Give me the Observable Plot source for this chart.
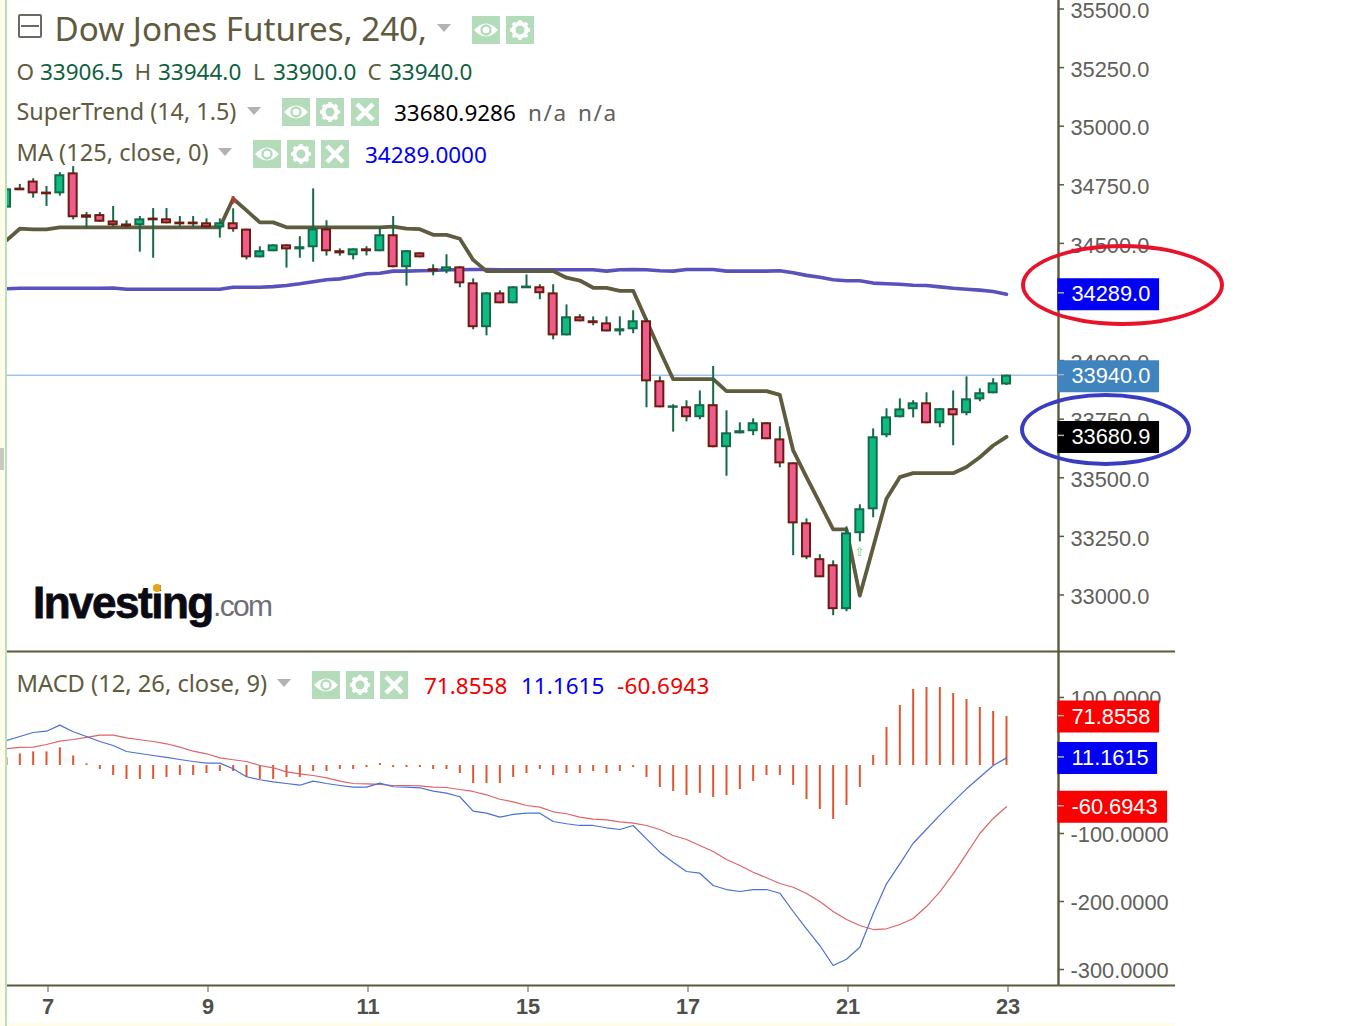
<!DOCTYPE html>
<html><head><meta charset="utf-8">
<script src="https://cdn.jsdelivr.net/npm/d3@7"></script>
<script src="https://cdn.jsdelivr.net/npm/@observablehq/plot@0.6"></script>
<style>
html,body{margin:0;padding:0;background:#fff;overflow:hidden;width:1366px;height:1026px}
#stage{position:relative;width:1366px;height:1026px;overflow:hidden}
#stage>svg{position:absolute;left:0}
.t{position:absolute;white-space:pre;font-family:"Noto Sans";line-height:1;transform:translateY(-50%);z-index:5}
.tri{position:absolute;width:0;height:0;border-left:7px solid transparent;border-right:7px solid transparent;border-top:8px solid #b4b0b4;z-index:5}
.ic{position:absolute;z-index:5}
.ell{position:absolute;border-radius:50%;box-sizing:border-box;border-style:solid;border-width:4.5px;z-index:6}
.edge{position:absolute;z-index:7}
</style></head><body><div id="stage"></div>
<script>
const opens=[34661,34738,34768,34721,34722,34803,34624,34625,34598,34585,34586,34610,34607,34593,34593,34590,34577,34590,34563,34449,34475,34496,34483,34492,34564,34471,34458,34479,34475,34539,34407,34462,34394,34390,34402,34334,34151,34291,34253,34317,34317,34291,34116,34189,34172,34163,34133,34142,34172,33916,33807,33805,33767,33814,33639,33698,33707,33737,33668,33566,33310,33157,33131,32948,33272,33374,33690,33767,33801,33822,33741,33797,33784,33843,33869,33906.5];
const closes=[34735,34735,34722,34718,34795,34620,34618,34601,34586,34581,34607,34607,34594,34590,34590,34577,34590,34569,34449,34471,34496,34483,34488,34564,34475,34466,34479,34475,34539,34407,34471,34449,34390,34402,34338,34151,34291,34253,34317,34320,34296,34116,34189,34176,34168,34133,34138,34172,33920,33809,33809,33767,33814,33639,33694,33703,33737,33673,33570,33314,33169,33084,32948,33267,33370,33677,33762,33796,33822,33741,33797,33775,33839,33865,33907,33940];
const highs=[34735,34758,34782,34749,34808,34834,34638,34638,34664,34603,34621,34655,34655,34621,34621,34611,34611,34654,34567,34492,34500,34500,34535,34739,34603,34483,34483,34492,34575,34621,34475,34466,34415,34458,34407,34355,34296,34304,34321,34372,34330,34330,34244,34202,34193,34193,34193,34219,34185,33937,33818,33835,33877,33981,33792,33741,33758,33741,33724,33570,33331,33178,33152,33297,33391,33715,33801,33843,33835,33869,33801,33877,33937,33886,33929,33944];
const lows=[34661,34732,34699,34664,34708,34607,34570,34596,34575,34571,34469,34443,34590,34575,34575,34569,34529,34554,34436,34445,34471,34401,34443,34426,34452,34452,34436,34453,34471,34402,34324,34445,34368,34377,34317,34138,34112,34249,34249,34315,34266,34095,34112,34172,34155,34129,34112,34121,33805,33805,33701,33745,33754,33634,33513,33694,33686,33669,33549,33174,33157,33080,32918,32935,33233,33336,33677,33762,33762,33737,33720,33643,33771,33831,33865,33900];
const superTrend=[34519,34569,34566,34566,34575,34575,34575,34575,34575,34575,34575,34575,34575,34575,34575,34575,34575,34697,34647,34596,34596,34575,34575,34575,34575,34575,34575,34575,34575,34578,34569,34567,34543,34543,34526,34436,34388,34388,34388,34388,34388,34388,34360,34348,34317,34317,34304,34304,34177,34049,33927,33927,33927,33927,33876,33876,33876,33876,33860,33623,33509,33398,33286,33286,33004,33210,33417,33509,33526,33526,33526,33526,33552,33594,33644,33680.93];
const movingAvg=[34313,34315,34315,34315,34315,34315,34315,34315,34316,34311,34311,34311,34311,34311,34311,34311,34311,34319,34319,34319,34322,34327,34334,34343,34351,34355,34365,34377,34379,34388,34388,34390,34391,34394,34394,34395,34395,34394,34394,34394,34394,34394,34394,34394,34394,34388,34394,34395,34394,34390,34388,34395,34395,34395,34388,34388,34388,34388,34390,34381,34370,34362,34351,34347,34347,34337,34334,34332,34328,34327,34321,34315,34311,34307,34301,34289];
const macdLine=[36.8,42.6,48.5,50.4,59.3,49.6,42.6,35.3,29.4,20.6,17.6,14.7,11.8,8.8,5.9,3.4,3.4,-4.9,-16.6,-21,-24,-26.5,-29,-23.1,-26.5,-29.4,-31.9,-31.9,-26,-31.3,-31.9,-32.8,-37.8,-40.7,-46,-67.2,-70.1,-76,-72,-70.1,-70.1,-82.4,-85.7,-88.2,-88.2,-91.6,-94.1,-88.2,-107.8,-127.5,-142.2,-155.9,-158.4,-176.5,-182.4,-185.3,-182.4,-182.4,-187.8,-214.7,-240.1,-264.7,-294.1,-284.9,-267.2,-218.1,-174,-144.6,-114.3,-93.7,-73.1,-53.4,-34.3,-17.2,0,11.16];
const signalLine=[24.6,26.5,26.9,30.9,35.7,38.2,41.2,44.6,44.6,40.7,37.8,35.3,31.9,26.9,21,17.2,11.3,8.4,5.9,0,-3.4,-9.3,-12.2,-14.7,-18.1,-23.1,-26.5,-26.9,-27.9,-29.4,-29.4,-29.9,-31.9,-32.4,-35.3,-38.2,-43.1,-49.6,-53.4,-58.8,-61.3,-68.1,-71,-76,-79,-79.9,-82.8,-84.8,-88.2,-94.1,-102.9,-108.8,-117.6,-126.5,-138.2,-147.1,-156.9,-165.1,-173.5,-179,-188.2,-200,-214.7,-226.5,-235.3,-241.2,-240.1,-233.8,-225,-207.4,-185.7,-159.3,-129.9,-100,-77.9,-60.69];
const histogram=[11.3,17,20,20,26,14,2.5,-5.9,-14.7,-20.6,-20.6,-20.6,-17.6,-14.7,-14.7,-11.8,-8.8,-8.8,-17.6,-20.6,-20.6,-17.6,-17.6,-8.8,-8.8,-5.9,-5.9,-2.9,2.9,-2.9,-2.9,-2.9,-5.9,-5.9,-11.8,-26.5,-26.5,-26.5,-17.6,-11.8,-5.9,-14.7,-11.8,-11.8,-8.8,-11.8,-8.8,-2.9,-17.6,-32.4,-38.2,-44,-41,-47,-44,-35.3,-23.5,-14.7,-14.7,-29.4,-50,-64.7,-79.4,-58.8,-32.4,14.7,55.9,88.2,111.8,114.7,114.7,105.9,97,85.3,79.4,71.86];
const priceTicks=[33000,33250,33500,33750,34000,34500,34750,35000,35250,35500];
const macdTicks=[100,-100,-200,-300];
const dayIndex=[3,15,27,39,51,63,75];
const dayLabels=["7","9","11","15","17","21","23"];
const priceTags=[
 {v:34289,label:"34289.0",bg:"#0000f5",end:86.48},
 {v:33940,label:"33940.0",bg:"#3f83bf",end:86.48},
 {v:33680.9,label:"33680.9",bg:"#000000",end:86.48}];
const macdTags=[
 {v:71.8558,label:"71.8558",bg:"#fb0000",end:86.48},
 {v:11.1615,label:"11.1615",bg:"#0000f5",end:86.33},
 {v:-60.6943,label:"-60.6943",bg:"#fb0000",end:87.08}];

const xEdge=78.9, lineEnd=87.68;
const candles=opens.map((o,i)=>({i,open:o,close:closes[i],high:highs[i],low:lows[i]}));
const up=candles.filter(d=>d.close>=d.open), down=candles.filter(d=>d.close<d.open);
const series=opens.map((_,i)=>({i,st:superTrend[i],ma:movingAvg[i],macd:macdLine[i],sig:signalLine[i],hist:histogram[i]}));
const axisColor="#5c5a3a", tickText="#60605a", font="'Liberation Sans'";
const xOpts={domain:[0,78.75],range:[6,1056],axis:null};
const base={width:1366,marginLeft:7,marginRight:309,style:{overflow:"visible",background:"transparent",fontFamily:font}};
const tagMarks=(tags,dy)=>[
  Plot.ruleY(tags,{y:"v",x1:xEdge-0.05,x2:"end",stroke:"bg",strokeWidth:32}),
  Plot.ruleY(tags,{y:"v",x1:xEdge,x2:xEdge+0.45,dy,stroke:"#b0b0a8",strokeWidth:1.5}),
  Plot.text(tags,{x:xEdge,y:"v",dx:13,text:"label",textAnchor:"start",fill:"#fff",fontSize:21.8,fontFamily:font})
];
const body=(data,fill,stroke)=>Plot.rect(data,{x1:d=>d.i-0.3,x2:d=>d.i+0.3,y1:"open",y2:"close",fill,stroke,strokeWidth:2,clip:true});

const pricePlot=Plot.plot({...base,height:651,marginTop:0,marginBottom:0,
  x:xOpts,y:{domain:[32765.2,35542.7],range:[651,0],axis:null},
  marks:[
    Plot.ruleY([33940],{x1:0,x2:xEdge,dy:-1,stroke:"#9dc3ec",strokeWidth:1.5,clip:true}),
    Plot.line(series,{x:"i",y:"ma",stroke:"#5a52bc",strokeWidth:3.6,clip:true}),
    Plot.line(series,{x:"i",y:"st",stroke:"#5f5b3e",strokeWidth:3.8,clip:true}),
    Plot.ruleX(candles,{x:"i",y1:"low",y2:"high",stroke:"#14694a",strokeWidth:2,clip:true}),
    body(down,"#ee5c8e","#6e1a0e"),
    body(up,"#0cbc82","#146a48"),
    Plot.text([{i:64,v:33188}],{x:"i",y:"v",text:()=>"⇧",fill:"#5fd85f",fontSize:12,fontFamily:"DejaVu Sans"}),
    Plot.text([{i:17,v:34690}],{x:"i",y:"v",text:()=>"⇩",fill:"#e02020",fontSize:11,fontWeight:"bold",fontFamily:"DejaVu Sans"}),
    Plot.ruleX([xEdge],{stroke:axisColor,strokeWidth:2.4}),
    Plot.ruleY(priceTicks,{x1:xEdge,x2:xEdge+0.45,dy:-1.5,stroke:axisColor,strokeWidth:1.5}),
    Plot.axisY(priceTicks,{anchor:"right",tickSize:0,tickPadding:13,dy:0.7,tickFormat:d=>d.toFixed(1),fontSize:21.8,color:tickText,label:null}),
    ...tagMarks(priceTags,-1.5)
  ]});
pricePlot.style.top="0px";

const macdPlot=Plot.plot({...base,height:375,marginTop:0,marginBottom:41,
  x:xOpts,y:{domain:[-323.5,167.6],range:[334,0],axis:null},
  marks:[
    Plot.ruleX(series,{x:"i",y1:0,y2:"hist",stroke:"#e0562e",strokeWidth:2,clip:true}),
    Plot.line(series,{x:"i",y:"sig",stroke:"#dd6468",strokeWidth:1.2,clip:true}),
    Plot.line(series,{x:"i",y:"macd",stroke:"#4a70d4",strokeWidth:1.2,clip:true}),
    Plot.ruleX([xEdge],{stroke:axisColor,strokeWidth:2.4}),
    Plot.ruleY([167.6,-323.5],{x1:0,x2:lineEnd,stroke:axisColor,strokeWidth:2.2}),
    Plot.ruleY(macdTicks,{x1:xEdge,x2:xEdge+0.45,stroke:axisColor,strokeWidth:1.5}),
    Plot.axisY(macdTicks,{anchor:"right",tickSize:0,tickPadding:13,dy:1.5,tickFormat:d=>d.toFixed(4),fontSize:21.8,color:tickText,label:null}),
    Plot.axisX(dayIndex,{anchor:"bottom",tickSize:7,tickPadding:6,dx:1.5,tickFormat:d=>dayLabels[dayIndex.indexOf(d)],fontSize:21.8,fontWeight:"bold",color:"#50504a",stroke:axisColor,label:null}),
    ...tagMarks(macdTags,-1)
  ]});
macdPlot.style.top="651px";

const stage=document.getElementById("stage");
stage.append(pricePlot,macdPlot);
function txt(s,left,cy,size,color,extra={}){const e=document.createElement("div");e.className="t";e.textContent=s;
  Object.assign(e.style,{left:left+"px",top:cy+"px",fontSize:size+"px",color},extra);stage.append(e);return e;}
function tri(left,y){const e=document.createElement("div");e.className="tri";e.style.left=left+"px";e.style.top=y+"px";stage.append(e);}
const glyph={
 eye:'<path d="M2 14Q14 1 26 14Q14 27 2 14Z" fill="#fff"/><circle cx="14" cy="14" r="4.5" fill="#fff" stroke="#b5dcba" stroke-width="2.4"/>',
 gear:'<circle cx="14" cy="14" r="6.5" fill="none" stroke="#fff" stroke-width="4"/>'+[0,45,90,135].map(a=>`<path d="M14 4V24" stroke="#fff" stroke-width="3.5" stroke-dasharray="4 12" transform="rotate(${a} 14 14)"/>`).join(""),
 x:'<path d="M6 6L22 22M22 6L6 22" stroke="#fff" stroke-width="4.5"/>'};
function icon(kind,left,y){const e=document.createElement("div");e.className="ic";e.style.left=left+"px";e.style.top=y+"px";
  e.innerHTML=`<svg width="28" height="28" viewBox="0 0 28 28"><rect width="28" height="28" fill="#b5dcba"/>${glyph[kind]}</svg>`;stage.append(e);}

// legend: title
const box=document.createElement("div");box.className="ic";box.style.cssText="left:18px;top:14px;width:24px;height:24px;box-sizing:border-box;border:2px solid #6a6a62;border-radius:2px";
box.innerHTML='<div style="height:2px;background:#6a6a62;margin:9px 1px 0"></div>';stage.append(box);
txt("Dow Jones Futures, 240,",54.5,29,33.2,"#5f5b3e");
tri(437,24);icon("eye",472,16);icon("gear",506,16);
// OHLC
const lab="#5f5b3e",num="#0f5f3f";
[["O",16.5,"33906.5",40],["H",134.5,"33944.0",158],["L",253,"33900.0",273],["C",367.5,"33940.0",389]].forEach(([a,x,b,x2])=>{txt(a,x,72,22.5,lab);txt(b,x2,72,22.5,num);});
// SuperTrend
txt("SuperTrend (14, 1.5)",16.5,112,23.4,"#5f5b3e");tri(247,107);icon("eye",282,98);icon("gear",316,98);icon("x",351,98);
txt("33680.9286",394,113,22.5,"#000");txt("n/a",528,113,22.5,"#60605a",{letterSpacing:"1.6px"});txt("n/a",578,113,22.5,"#60605a",{letterSpacing:"1.6px"});
// MA
txt("MA (125, close, 0)",16.5,153,23.6,"#5f5b3e");tri(218,148);icon("eye",253,140);icon("gear",287,140);icon("x",321,140);
txt("34289.0000",365,155,22.5,"#0000f5");
// MACD
txt("MACD (12, 26, close, 9)",16.5,684,23.7,"#5f5b3e");tri(277,679);icon("eye",312,671);icon("gear",346,671);icon("x",380,671);
txt("71.8558",424,686,22.5,"#f00000");txt("11.1615",521,686,22.5,"#0000f5");txt("-60.6943",617,686,22.5,"#f00000",{letterSpacing:"0.25px"});
// logo
txt("Investing",33,603,44,"#0a0a12",{fontFamily:font,fontWeight:"bold",letterSpacing:"-1.5px",webkitTextStroke:"0.8px #0a0a12"});
txt(".com",213,606,30,"#6e6e78",{fontFamily:font,letterSpacing:"-1.7px"});
const dot=document.createElement("div");dot.className="ic";dot.style.cssText="left:153px;top:584px;width:8px;height:8px;border-radius:50%;background:#e8a417";stage.append(dot);
// annotation ellipses
[[1021,244,203,82,"#e8122a"],[1020,393,171,73,"#3a3cc0"]].forEach(([l,t,w,h,c])=>{const e=document.createElement("div");e.className="ell";
  e.style.cssText+=`left:${l}px;top:${t}px;width:${w}px;height:${h}px;border-color:${c}`;stage.append(e);});
// page edges
[["left:0;top:0;width:5px;height:1026px;background:#fffdea"],["left:5px;top:0;width:2px;height:1026px;background:#b9e0bd"],["left:0;top:448px;width:4px;height:22px;background:#c9c9c0"],["left:7px;top:1023px;width:1168px;height:3px;background:#fffdea"]]
 .forEach(([css])=>{const e=document.createElement("div");e.className="edge";e.style.cssText=css;stage.append(e);});
</script></body></html>
